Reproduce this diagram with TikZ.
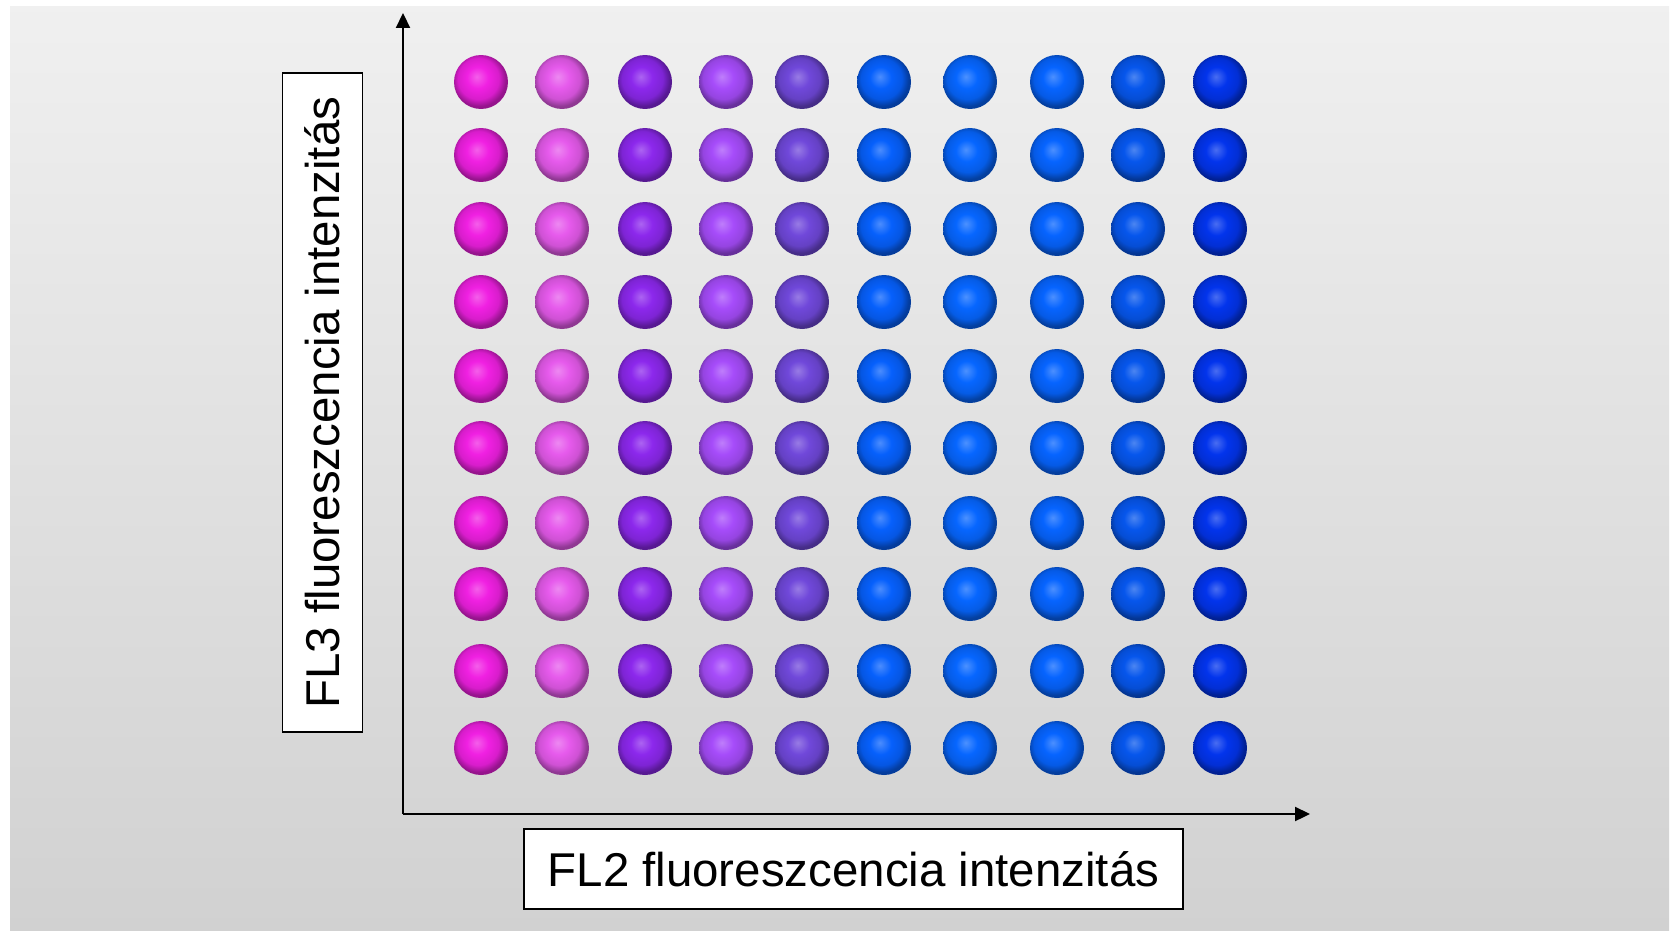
\documentclass[tikz,border=0pt]{standalone}
\usepackage{fontspec}
\setmainfont{Liberation Sans}
\usetikzlibrary{arrows.meta}

% colours of the bead columns, left to right
\definecolor{beadA}{HTML}{F020E2}
\definecolor{beadB}{HTML}{E65AEC}
\definecolor{beadC}{HTML}{8C28EC}
\definecolor{beadD}{HTML}{A64CFA}
\definecolor{beadE}{HTML}{7048DA}
\definecolor{beadF}{HTML}{0660FC}
\definecolor{beadG}{HTML}{0666FF}
\definecolor{beadH}{HTML}{0664FF}
\definecolor{beadI}{HTML}{0656EC}
\definecolor{beadJ}{HTML}{0234EC}
\colorlet{beadcol}{beadA}

% soft sphere shading that follows beadcol
\pgfdeclareradialshading[beadcol]{bead}{\pgfqpoint{-4bp}{5bp}}{%
  color(0bp)=(beadcol!72!white);
  color(10bp)=(beadcol);
  color(19bp)=(beadcol!90!black);
  color(25bp)=(beadcol!62!black);
  color(50bp)=(beadcol!62!black)}

\tikzset{
  bead/.style={circle, inner sep=0pt, minimum size=1.08cm,
    /utils/exec={\colorlet{beadcol}{#1}}, shading=bead},
  axis/.style={line width=0.045cm, -{Triangle[length=0.3cm, width=0.28cm]}},
  label box/.style={draw, line width=0.035cm, fill=white, inner sep=0pt,
    minimum width=13.18cm, minimum height=1.6cm,
    font=\fontsize{27}{32}\selectfont}
}

\begin{document}
\begin{tikzpicture}[x=0.02cm, y=-0.02cm]
    % page and grey backdrop
    \fill[white] (0,0) rectangle (1673,930);
    \useasboundingbox (0,0) rectangle (1673,930);
    \shade[top color=black!6, bottom color=black!18] (10,6) rectangle (1669,930);

    % axes
    \coordinate (origin) at (403,814);
    \coordinate (ytip) at (403,13);
    \coordinate (xtip) at (1310,814);
    \draw[axis] (origin) -- (ytip);
    \draw[axis] (origin) -- (xtip);

    % beads: 10 columns x 10 rows
    \foreach \cx/\cc [count=\i] in {481/beadA, 562/beadB, 645/beadC, 726/beadD, 802/beadE,
                                    884/beadF, 970/beadG, 1057/beadH, 1138/beadI, 1220/beadJ} {
      \foreach \ry [count=\j] in {82, 155, 229, 302, 376, 448, 523, 594, 671, 748} {
        \node[bead=\cc] (b\j-\i) at (\cx,\ry) {};
      }
    }

    % axis labels
    \node[label box, rotate=90] (ylab) at (322.5,402.5) {FL3 fluoreszcencia intenzitás};
    \node[label box] (xlab) at (853.5,869) {FL2 fluoreszcencia intenzitás};
\end{tikzpicture}
\end{document}
